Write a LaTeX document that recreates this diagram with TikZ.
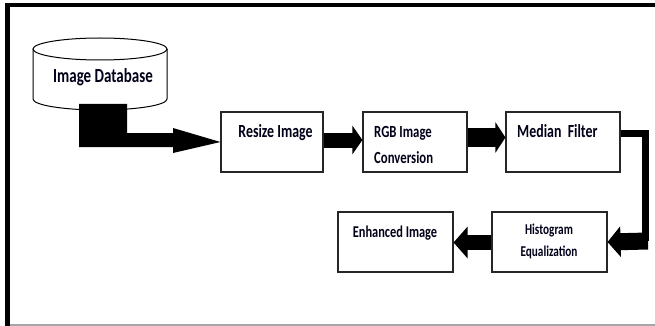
\documentclass[tikz,border=0pt]{standalone}
\usepackage{fontspec}
\newfontfamily\calib[FakeStretch=0.75]{Carlito}
\usetikzlibrary{arrows.meta,calc}
\tikzset{
  procbox/.style={draw=black!85, line width=1.1pt, fill=white, inner sep=0pt, minimum height=60pt},
  lbl/.style={font=\calib\bfseries, inner sep=0pt, anchor=base, text=black!90!blue},
  fatarrow/.style={draw=black},
}
\begin{document}
\begin{tikzpicture}[x=1pt,y=-1pt]
\useasboundingbox (0,0) rectangle (655,326);
% frame
\draw[line width=3.5pt] (5,5) -- (655,5);
\draw[line width=5pt] (7.5,3.25) -- (7.5,326);
\draw[line width=1.5pt, black!35] (10,325) -- (655,325);
% cylinder
\draw[line width=1pt, fill=white] (33,49) -- (33,99) arc[start angle=180, end angle=0, x radius=67, y radius=11] -- (167,49);
\draw[line width=1pt] (100,49) ellipse [x radius=67, y radius=11];
\node[lbl, font=\calib\bfseries\fontsize{20}{24}\selectfont] (db) at (103,83) {Image Database};
% boxes
\node[procbox, minimum width=102pt] (resize) at (272,142) {};
\node[procbox, minimum width=104pt] (rgb) at (415,142) {};
\node[procbox, minimum width=114pt] (median) at (563,142) {};
\node[procbox, minimum width=115pt] (hist) at (549.5,242) {};
\node[procbox, minimum width=115pt] (enh) at (395.5,242) {};
% labels
\node[lbl, font=\calib\bfseries\fontsize{18.5}{22}\selectfont] (tresize) at (275.5,137) {Resize Image};
\node[lbl, anchor=base west, font=\calib\bfseries\fontsize{17}{20}\selectfont] (trgb1) at (374,137) {RGB Image};
\node[lbl, anchor=base west, font=\calib\bfseries\fontsize{17}{20}\selectfont] (trgb2) at (374,163) {Conversion};
\node[lbl, anchor=base west, font=\calib\bfseries\fontsize{18.5}{22}\selectfont] (tmed) at (517,137) {Median\ \ Filter};
\node[lbl, font=\calib\bfseries\fontsize{15}{18}\selectfont] (thist1) at (549,234) {Histogram};
\node[lbl, font=\calib\bfseries\fontsize{15}{18}\selectfont] (thist2) at (549,256) {Equalization};
\node[lbl, font=\calib\bfseries\fontsize{16.5}{20}\selectfont] (tenh) at (395,237) {Enhanced Image};
% database -> resize
\coordinate (dbfoot) at (79,104);
\fill (dbfoot) -- (127,104) -- (127,133) -- (173,133) -- (173,128) -- (resize.west) -- (173,153) -- (173,147) -- (79,147) -- cycle;
% resize -> rgb
\draw[line width=15pt, -{Triangle[length=10pt, width=28pt]}] ([yshift=2pt]resize.east) -- ([yshift=2pt]rgb.west);
% rgb -> median
\draw[line width=19pt, -{Triangle[length=10pt, width=30pt]}] ([yshift=4.5pt]rgb.east) -- ([yshift=4.5pt]median.west);
% median -> hist
\coordinate (rc1) at (645,133);
\coordinate (rc2) at (645,241);
\draw[line width=7pt, line join=miter] ([yshift=9pt]median.east) -- (rc1) -- (rc2);
\draw[line width=17pt, -{Triangle[length=13pt, width=30pt]}] ([xshift=3pt]rc2) -- (hist.east);
% hist -> enhanced
\draw[line width=15pt, -{Triangle[length=14pt, width=31pt]}] ([yshift=-0.5pt]hist.west) -- ([yshift=-0.5pt]enh.east);
\end{tikzpicture}
\end{document}
